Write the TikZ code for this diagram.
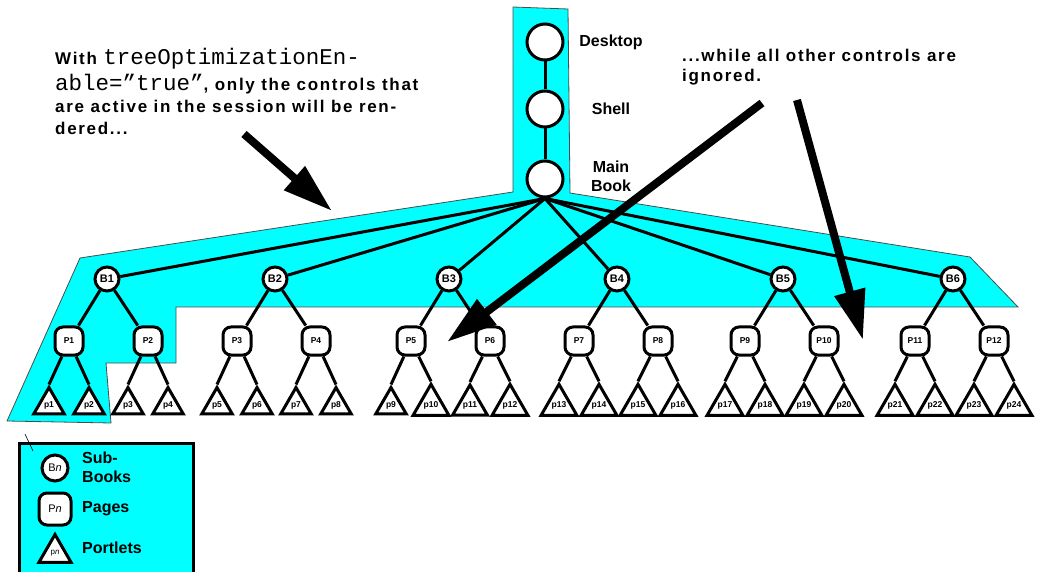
\documentclass[tikz,border=0pt]{standalone}
\usepackage{fontspec}
\setmainfont{Liberation Sans}
\setmonofont{Liberation Mono}
\newfontfamily\notefont{Liberation Sans}[LetterSpace=10]
\newfontfamily\codefont{Liberation Mono}
\usetikzlibrary{shapes.geometric,arrows.meta}
\definecolor{band}{RGB}{0,255,255}
\newcommand{\codetxt}[1]{{\codefont\mdseries\fontsize{22.5}{22}\selectfont #1}}
\tikzset{
	bignode/.style={circle, draw, fill=white, line width=3pt, minimum size=36pt, inner sep=0pt},
	booknode/.style={circle, draw, fill=white, line width=3pt, minimum size=24pt, inner sep=0pt, font=\bfseries\fontsize{11}{11}\selectfont},
	pagenode/.style={rectangle, rounded corners=8pt, draw, fill=white, line width=3pt, minimum size=28pt, inner sep=0pt, font=\bfseries\fontsize{8.5}{8.5}\selectfont},
	portnode/.style={regular polygon, regular polygon sides=3, draw, fill=white, line width=3pt, minimum size=35pt, inner sep=0pt, font=\bfseries\fontsize{8.5}{8.5}\selectfont},
	link/.style={line width=3pt},
	bigarrow/.style={line width=8pt, -{Triangle[width=30pt,length=50pt]}},
	lbl/.style={align=center, inner sep=0pt, font=\bfseries\fontsize{16}{19}\selectfont},
	note/.style={anchor=base west, inner sep=0pt, font=\notefont\bfseries\fontsize{17}{22}\selectfont}
}
\begin{document}
\begin{tikzpicture}[x=1pt, y=-1pt]
	\useasboundingbox (0,0) rectangle (1037,572);
	\filldraw[fill=band, draw=black!70, line width=0.8pt]
	(513,7) -- (568,9) -- (570,193) -- (970,257) -- (1018,307) -- (176,307) -- (176,363)
	-- (106,363) -- (111,423) -- (7,421) -- (80,258) -- (513,192) -- cycle;

	\node[bignode] (desk) at (545,42) {};
	\node[bignode] (shell) at (545,109) {};
	\node[bignode] (main) at (545,179) {};
	\node[lbl] (desklbl) at (611,42) {Desktop};
	\node[lbl] (shelllbl) at (611,109) {Shell};
	\node[lbl] (mainlbl) at (611,176) {Main\\Book};
	\draw[link] (desk) -- (shell) -- (main);

	\foreach \x [count=\i, evaluate=\i as \pa using int(2*\i-1), evaluate=\i as \pb using int(2*\i),
		evaluate=\i as \ta using int(4*\i-3), evaluate=\i as \tb using int(4*\i-2),
		evaluate=\i as \tc using int(4*\i-1), evaluate=\i as \td using int(4*\i)]
		in {107,275,449,617,783,953} {
		\node[booknode] (b\i) at (\x,279) {B\i};
		\node[pagenode] (p\pa) at (\x-38,341) {P\pa};
		\node[pagenode] (p\pb) at (\x+41,341) {P\pb};
		\node[portnode] (t\ta) at (\x-58,405) {p\ta};
		\node[portnode] (t\tb) at (\x-18,405) {p\tb};
		\node[portnode] (t\tc) at (\x+21,405) {p\tc};
		\node[portnode] (t\td) at (\x+61,405) {p\td};
		\draw[link] (main.south) -- (b\i);
		\draw[link] (p\pa) -- (b\i) -- (p\pb);
		\draw[link] (t\ta.corner 1) -- (p\pa) -- (t\tb.corner 1);
		\draw[link] (t\tc.corner 1) -- (p\pb) -- (t\td.corner 1);
	}

	\node[note] (say1) at (55,65) {With \codetxt{treeOptimizationEn-}};
	\node[note] (say2) at (55,91) {\codetxt{able=”true”}, only the controls that};
	\node[note] (say3) at (55,113) {are active in the session will be ren-};
	\node[note] (say4) at (55,135) {dered...};
	\node[note] (say5) at (682,62) {...while all other controls are};
	\node[note] (say6) at (682,82) {ignored.};

	\coordinate (tail1) at (244,134);
	\coordinate (tip1) at (332,211);
	\coordinate (tail2) at (762,103);
	\coordinate (tip2) at (447,342);
	\coordinate (tail3) at (797,100);
	\coordinate (tip3) at (863,340);
	\draw[bigarrow] (tail1) -- (tip1);
	\draw[bigarrow] (tail2) -- (tip2);
	\draw[bigarrow] (tail3) -- (tip3);

	\fill[band] (19,443) rectangle (193,572);
	\draw[line width=3pt] (19,572) -- (19,443) -- (193,443) -- (193,572);
	\draw[line width=0.6pt] (25,434) -- (33,451);
	\node[booknode, minimum size=26pt, font=\fontsize{11}{11}\selectfont] (keyb) at (55,468) {B\textit{n}};
	\node[pagenode, minimum size=32pt, font=\fontsize{11}{11}\selectfont] (keyp) at (55,509) {P\textit{n}};
	\node[portnode, minimum size=37pt, font=\fontsize{8}{8}\selectfont] (keyt) at (55,553) {p\textit{n}};
	\node[lbl, align=left, anchor=west] (keyblbl) at (82,467) {Sub-\\Books};
	\node[lbl, anchor=west] (keyplbl) at (82,509) {Pages};
	\node[lbl, anchor=west] (keytlbl) at (82,548) {Portlets};
\end{tikzpicture}
\end{document}
